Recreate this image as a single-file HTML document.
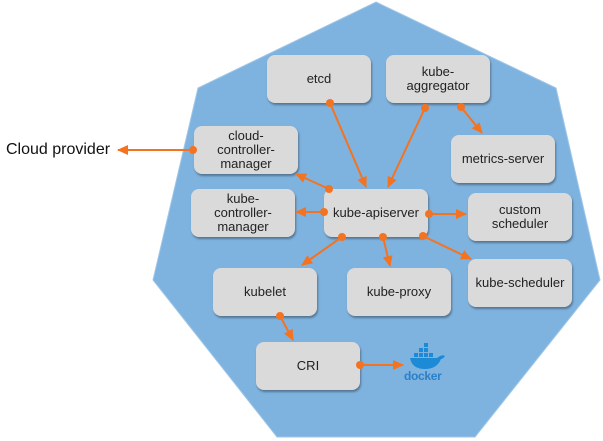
<!DOCTYPE html>
<html><head><style>
body{margin:0;width:603px;height:441px;background:#fff;overflow:hidden;position:relative;font-family:"Liberation Sans",sans-serif}
.b{position:absolute;width:104px;height:48px;background:#dadada;border-radius:8px;box-shadow:1px 2px 2px rgba(0,0,0,.35);display:flex;align-items:center;justify-content:center;text-align:center;font-size:13px;line-height:14px;color:#222}
</style></head><body>
<svg width="603" height="441" style="position:absolute;left:0;top:0">
<defs><marker id="a" markerWidth="11" markerHeight="10" refX="10" refY="5" orient="auto" markerUnits="userSpaceOnUse"><path d="M0,0L11,5L0,10z" fill="#f47321"/></marker></defs>
<polygon points="376,2 556,88 600,280 475,437 277,437 153,280 198,88" fill="#7fb3df" stroke="#9fc6e8" stroke-width="1"/>
</svg>
<div class="b" style="left:267px;top:55px">etcd</div>
<div class="b" style="left:386px;top:55px">kube-<br>aggregator</div>
<div class="b" style="left:194px;top:126px">cloud-<br>controller-<br>manager</div>
<div class="b" style="left:451px;top:135px">metrics-server</div>
<div class="b" style="left:191px;top:189px">kube-<br>controller-<br>manager</div>
<div class="b" style="left:324px;top:189px">kube-apiserver</div>
<div class="b" style="left:468px;top:193px">custom<br>scheduler</div>
<div class="b" style="left:468px;top:259px">kube-scheduler</div>
<div class="b" style="left:213px;top:268px">kubelet</div>
<div class="b" style="left:347px;top:268px">kube-proxy</div>
<div class="b" style="left:256px;top:342px">CRI</div>
<div style="position:absolute;left:6px;top:141px;font-size:16px;color:#111">Cloud provider</div>
<div style="position:absolute;left:404px;top:369px;font-size:12px;color:#2a7fc9;font-weight:bold;letter-spacing:-0.3px">docker</div>
<svg width="603" height="441" style="position:absolute;left:0;top:0">
<g fill="#1d8ad6"><path d="M410,358 h27 q5,-4 8,-2 q-2,3 -4,3 q-4,10 -16,10 q-13,0 -15,-11z"/>
<rect x="414" y="353" width="4" height="4"/><rect x="419" y="353" width="4" height="4"/><rect x="424" y="353" width="4" height="4"/><rect x="419" y="348" width="4" height="4"/><rect x="424" y="348" width="4" height="4"/><rect x="424" y="343" width="4" height="4"/><rect x="429" y="353" width="4" height="4"/></g>
<g stroke="#f47321" stroke-width="2" fill="none" marker-end="url(#a)">
<line x1="330" y1="103" x2="366" y2="187"/>
<line x1="425" y1="108" x2="388" y2="187"/>
<line x1="461" y1="107" x2="482" y2="133"/>
<line x1="329" y1="189" x2="296" y2="174"/>
<line x1="324" y1="212" x2="296" y2="212"/>
<line x1="429" y1="214" x2="466" y2="214"/>
<line x1="342" y1="237" x2="302" y2="265"/>
<line x1="383" y1="237" x2="390" y2="266"/>
<line x1="423" y1="236" x2="471" y2="259"/>
<line x1="280" y1="316" x2="293" y2="340"/>
<line x1="360" y1="365" x2="403" y2="365"/>
<line x1="193" y1="150" x2="118" y2="150"/>
</g>
<g fill="#f47321">
<circle cx="330" cy="103" r="4"/><circle cx="425" cy="108" r="4"/><circle cx="461" cy="107" r="4"/>
<circle cx="329" cy="189" r="4"/><circle cx="324" cy="212" r="4"/><circle cx="429" cy="214" r="4"/>
<circle cx="342" cy="237" r="4"/><circle cx="383" cy="237" r="4"/><circle cx="423" cy="236" r="4"/>
<circle cx="280" cy="316" r="4"/><circle cx="360" cy="365" r="4"/><circle cx="193" cy="150" r="4"/>
</g>
</svg>
</body></html>
